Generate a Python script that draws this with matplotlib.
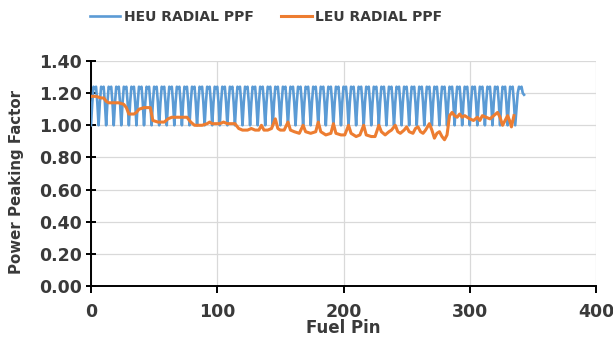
import matplotlib
matplotlib.use("Agg")
import matplotlib.pyplot as plt

# ---------------- data ----------------
heu_y = [
    1.00, 1.14, 1.24, 1.23, 1.24, 1.14, 1.00, 1.14, 1.24, 1.23, 1.24, 1.14,
    1.00, 1.14, 1.24, 1.23, 1.24, 1.14, 1.00, 1.14, 1.24, 1.23, 1.24, 1.14,
    1.00, 1.14, 1.24, 1.23, 1.24, 1.14, 1.00, 1.14, 1.24, 1.23, 1.24, 1.14,
    1.00, 1.14, 1.24, 1.23, 1.24, 1.14, 1.00, 1.14, 1.24, 1.23, 1.24, 1.14,
    1.00, 1.14, 1.24, 1.23, 1.24, 1.14, 1.00, 1.14, 1.24, 1.23, 1.24, 1.14,
    1.00, 1.14, 1.24, 1.23, 1.24, 1.14, 1.00, 1.14, 1.24, 1.23, 1.24, 1.14,
    1.00, 1.14, 1.24, 1.23, 1.24, 1.14, 1.00, 1.14, 1.24, 1.23, 1.24, 1.14,
    1.00, 1.14, 1.24, 1.23, 1.24, 1.14, 1.00, 1.14, 1.24, 1.23, 1.24, 1.14,
    1.00, 1.14, 1.24, 1.23, 1.24, 1.14, 1.00, 1.14, 1.24, 1.23, 1.24, 1.14,
    1.00, 1.14, 1.24, 1.23, 1.24, 1.14, 1.00, 1.14, 1.24, 1.23, 1.24, 1.14,
    1.00, 1.14, 1.24, 1.23, 1.24, 1.14, 1.00, 1.14, 1.24, 1.23, 1.24, 1.14,
    1.00, 1.14, 1.24, 1.23, 1.24, 1.14, 1.00, 1.14, 1.24, 1.23, 1.24, 1.14,
    1.00, 1.14, 1.24, 1.23, 1.24, 1.14, 1.00, 1.14, 1.24, 1.23, 1.24, 1.14,
    1.00, 1.14, 1.24, 1.23, 1.24, 1.14, 1.00, 1.14, 1.24, 1.23, 1.24, 1.14,
    1.00, 1.14, 1.24, 1.23, 1.24, 1.14, 1.00, 1.14, 1.24, 1.23, 1.24, 1.14,
    1.00, 1.14, 1.24, 1.23, 1.24, 1.14, 1.00, 1.14, 1.24, 1.23, 1.24, 1.14,
    1.00, 1.14, 1.24, 1.23, 1.24, 1.14, 1.00, 1.14, 1.24, 1.23, 1.24, 1.14,
    1.00, 1.14, 1.24, 1.23, 1.24, 1.14, 1.00, 1.14, 1.24, 1.23, 1.24, 1.14,
    1.00, 1.14, 1.24, 1.23, 1.24, 1.14, 1.00, 1.14, 1.24, 1.23, 1.24, 1.14,
    1.00, 1.14, 1.24, 1.23, 1.24, 1.14, 1.00, 1.14, 1.24, 1.23, 1.24, 1.14,
    1.00, 1.14, 1.24, 1.23, 1.24, 1.14, 1.00, 1.14, 1.24, 1.23, 1.24, 1.14,
    1.00, 1.14, 1.24, 1.23, 1.24, 1.14, 1.00, 1.14, 1.24, 1.23, 1.24, 1.14,
    1.00, 1.14, 1.24, 1.23, 1.24, 1.14, 1.00, 1.14, 1.24, 1.23, 1.24, 1.14,
    1.00, 1.14, 1.24, 1.23, 1.24, 1.14, 1.00, 1.14, 1.24, 1.23, 1.24, 1.14,
    1.00, 1.14, 1.24, 1.23, 1.24, 1.14, 1.00, 1.14, 1.24, 1.23, 1.24, 1.14,
    1.00, 1.14, 1.24, 1.23, 1.24, 1.14, 1.00, 1.14, 1.24, 1.23, 1.24, 1.14,
    1.00, 1.14, 1.24, 1.23, 1.24, 1.14, 1.00, 1.14, 1.24, 1.23, 1.24, 1.14,
    1.00, 1.14, 1.24, 1.23, 1.24, 1.14, 1.00, 1.14, 1.24, 1.23, 1.24, 1.14,
    1.00, 1.10, 1.20, 1.24, 1.23, 1.24, 1.20, 1.19,
]
heu_x = list(range(len(heu_y)))

leu_x = [0, 4, 8, 10, 12, 14, 18, 22, 26, 28, 30, 34, 36, 38, 42, 47, 49, 53,
         58, 61, 64, 70, 76, 79, 82, 88, 92, 94, 96, 102, 105, 108, 114, 117,
         120, 124, 127, 130, 133, 135, 137, 140, 143, 146, 148, 150, 153, 156,
         158, 161, 165, 168, 170, 174, 178, 180, 182, 186, 190, 192, 194, 198,
         201, 204, 206, 210, 213, 216, 218, 222, 225, 228, 230, 233, 236, 238,
         241, 243, 245, 248, 250, 252, 255, 257, 259, 261, 263, 265, 268, 270,
         272, 274, 276, 278, 280, 282, 284, 286, 288, 290, 292, 294, 296, 298,
         300, 303, 306, 308, 310, 313, 316, 319, 322, 324, 326, 328, 330, 332,
         333, 335]
leu_y = [1.18, 1.18, 1.17, 1.17, 1.15, 1.14, 1.14, 1.14, 1.13, 1.11, 1.07,
         1.07, 1.08, 1.10, 1.11, 1.11, 1.03, 1.02, 1.02, 1.04, 1.05, 1.05,
         1.05, 1.02, 1.00, 1.00, 1.01, 1.02, 1.01, 1.01, 1.02, 1.01, 1.01,
         0.98, 0.97, 0.97, 0.98, 0.97, 0.97, 1.00, 0.97, 0.97, 0.98, 1.04,
         0.98, 0.97, 0.97, 1.02, 0.97, 0.96, 0.95, 1.00, 0.96, 0.95, 0.96,
         1.02, 0.96, 0.94, 0.95, 1.01, 0.95, 0.94, 0.94, 1.00, 0.95, 0.93,
         0.94, 1.00, 0.94, 0.93, 0.93, 1.00, 0.96, 0.94, 0.96, 0.97, 1.00,
         0.96, 0.95, 0.97, 0.99, 0.96, 0.95, 0.98, 0.99, 0.96, 0.95, 0.97,
         1.01, 0.97, 0.92, 0.95, 0.96, 0.93, 0.91, 0.94, 1.06, 1.08, 1.06,
         1.05, 1.07, 1.05, 1.06, 1.05, 1.04, 1.03, 1.05, 1.03, 1.06, 1.05,
         1.04, 1.06, 1.08, 1.05, 1.00, 1.03, 1.06, 1.02, 0.99, 1.06]

series_labels = ["HEU RADIAL PPF", "LEU RADIAL PPF"]
x_ticks = [0, 100, 200, 300, 400]
y_ticks = [0.0, 0.2, 0.4, 0.6, 0.8, 1.0, 1.2, 1.4]
x_label = "Fuel Pin"
y_label = "Power Peaking Factor"

# ---------------- figure ----------------
W, H = 613, 345
fig = plt.figure(figsize=(W / 100, H / 100), dpi=100)
ax = fig.add_axes([91 / W, 1 - 286 / H, (596 - 91) / W, (286 - 61) / H])

text_color = "#3a3a3a"
plt.rcParams["font.family"] = ["DejaVu Sans"]

ax.plot(heu_x, heu_y, color="#5B9BD5", lw=1.9, label=series_labels[0],
        zorder=3, solid_joinstyle="round")
ax.plot(leu_x, leu_y, color="#ED7D31", lw=2.2, label=series_labels[1],
        zorder=4, solid_joinstyle="round")

ax.set_xlim(0, 400)
ax.set_ylim(0, 1.4)
ax.set_xticks(x_ticks)
ax.set_yticks(y_ticks)
ax.set_xticklabels([str(t) for t in x_ticks])
ax.set_yticklabels([f"{t:.2f}" for t in y_ticks])
ax.grid(True, color="#d9d9d9", lw=0.9, zorder=0)
ax.set_axisbelow(True)

for s in ["top", "right"]:
    ax.spines[s].set_visible(False)
for s in ["left", "bottom"]:
    ax.spines[s].set_color("black")
    ax.spines[s].set_linewidth(1.4)

ax.tick_params(axis="y", direction="inout", length=7, width=1.4, pad=3,
               labelsize=12.5, labelcolor=text_color)
ax.tick_params(axis="x", direction="out", length=5, width=1.4, pad=7,
               labelsize=12.5, labelcolor=text_color)
for lab in ax.get_xticklabels() + ax.get_yticklabels():
    lab.set_fontweight("bold")

fig.text(343 / W, 1 - 328 / H, x_label, ha="center", va="center",
         fontsize=12, fontweight="bold", color=text_color)
fig.text(17 / W, 1 - 182 / H, y_label, ha="center", va="center",
         rotation=90, fontsize=10.8, fontweight="bold", color=text_color)

leg = fig.legend(loc="center", bbox_to_anchor=(266 / W, 1 - 17 / H), ncol=2,
                 frameon=False, handlelength=2.2, handletextpad=0.25,
                 columnspacing=2.0, prop={"weight": "bold", "size": 10})
for t in leg.get_texts():
    t.set_color(text_color)

fig.savefig("out.png", dpi=100)
